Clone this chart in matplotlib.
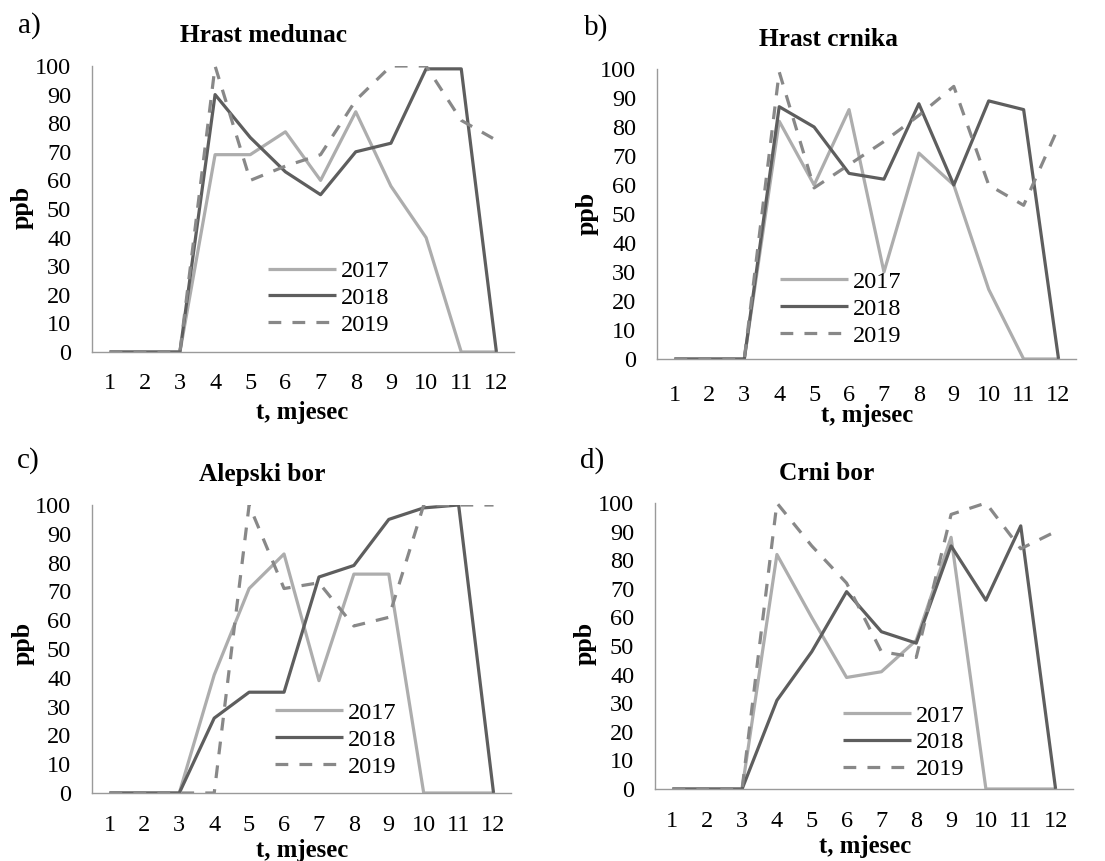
import numpy as np
import matplotlib.pyplot as plt

plt.rcParams['font.family'] = ['Liberation Serif', 'DejaVu Serif']

months = list(range(1, 13))
years = ['2017', '2018', '2019']

hrast_medunac_2017 = [0, 0, 0, 69, 69, 77, 60, 84, 58, 40, 0, 0]
hrast_medunac_2018 = [0, 0, 0, 90, 75, 63, 55, 70, 73, 99, 99, 0]
hrast_medunac_2019 = [0, 0, 0, 100, 60, 65, 69, 88, 100, 100, 81, 74]

hrast_crnika_2017 = [0, 0, 0, 82, 60, 86, 30, 71, 60, 24, 0, 0]
hrast_crnika_2018 = [0, 0, 0, 87, 80, 64, 62, 88, 60, 89, 86, 0]
hrast_crnika_2019 = [0, 0, 0, 99, 59, 67, 75, 84, 94, 60, 53, 80]

alepski_bor_2017 = [0, 0, 0, 41, 71, 83, 39, 76, 76, 0, 0, 0]
alepski_bor_2018 = [0, 0, 0, 26, 35, 35, 75, 79, 95, 99, 100, 0]
alepski_bor_2019 = [0, 0, 0, 0, 100, 71, 73, 58, 61, 100, 100, 100]

crni_bor_2017 = [0, 0, 0, 82, 60, 39, 41, 52, 88, 0, 0, 0]
crni_bor_2018 = [0, 0, 0, 31, 48, 69, 55, 51, 85, 66, 92, 0]
crni_bor_2019 = [0, 0, 0, 100, 85, 72, 48, 46, 96, 100, 84, 90]

W, H = 1105, 861
fig = plt.figure(figsize=(W / 100, H / 100), dpi=100)


def px_axes(left, right, top, bottom):
    return fig.add_axes([left / W, 1 - bottom / H, (right - left) / W, (bottom - top) / H])


# (title, letter, series, axes box px, legend center, title pos, letter pos, ylabel pos, xlabel pos, xpad)
panels = [
    ('Hrast medunac', 'a)', [hrast_medunac_2017, hrast_medunac_2018, hrast_medunac_2019],
     (92, 514, 66, 352), (0.562, 0.189), (264, 35), (18, 26), (22, 207), (302, 412), 15),
    ('Hrast crnika', 'b)', [hrast_crnika_2017, hrast_crnika_2018, hrast_crnika_2019],
     (657, 1076, 69, 359), (0.439, 0.173), (828, 40), (584, 28), (587, 213), (867, 415), 18.5),
    ('Alepski bor', 'c)', [alepski_bor_2017, alepski_bor_2018, alepski_bor_2019],
     (92, 511, 505, 793), (0.582, 0.185), (262, 475), (17, 461), (23, 643), (302, 850), 15.5),
    ('Crni bor', 'd)', [crni_bor_2017, crni_bor_2018, crni_bor_2019],
     (655, 1073, 503, 789), (0.594, 0.163), (827, 473), (580, 461), (585, 643), (865, 847), 15.5),
]

colors = ['#ADADAD', '#5E5E5E', '#888888']
styles = ['-', '-', '--']

for title, letter, series, box, leg_c, tpos, lpos, ypos, xpos, xpad in panels:
    ax = px_axes(*box)
    for vals, year, c, ls in zip(series, years, colors, styles):
        line, = ax.plot(months, vals, color=c, lw=2.3, ls=ls, label=year,
                        solid_capstyle='butt', dash_capstyle='butt')
        if ls == '--':
            line.set_dashes((4, 3.5))
    ax.set_xlim(0.5, 12.5)
    ax.set_ylim(0, 100)
    ax.set_xticks(months)
    ax.set_yticks(np.arange(0, 101, 10))
    ax.tick_params(length=0, labelsize=17.5, colors='black')
    ax.tick_params(axis='y', pad=15)
    ax.tick_params(axis='x', pad=xpad)
    for s in ['top', 'right']:
        ax.spines[s].set_visible(False)
    for s in ['left', 'bottom']:
        ax.spines[s].set_color('#9A9A9A')
        ax.spines[s].set_linewidth(1.0)
    ax.legend(loc='center', bbox_to_anchor=leg_c, frameon=False, fontsize=17.5,
              handlelength=2.8, handletextpad=0.2, labelspacing=0.2, borderpad=0)

    fig.text(tpos[0] / W, 1 - tpos[1] / H, title, ha='center', va='center',
             fontsize=18.3, fontweight='bold')
    fig.text(lpos[0] / W, 1 - lpos[1] / H, letter, ha='left', va='center', fontsize=21)
    fig.text(ypos[0] / W, 1 - ypos[1] / H, 'ppb', ha='center', va='center',
             rotation=90, fontsize=18.7, fontweight='bold')
    fig.text(xpos[0] / W, 1 - xpos[1] / H, 't, mjesec', ha='center', va='center',
             fontsize=17.8, fontweight='bold')

fig.savefig('out.png', dpi=100)
